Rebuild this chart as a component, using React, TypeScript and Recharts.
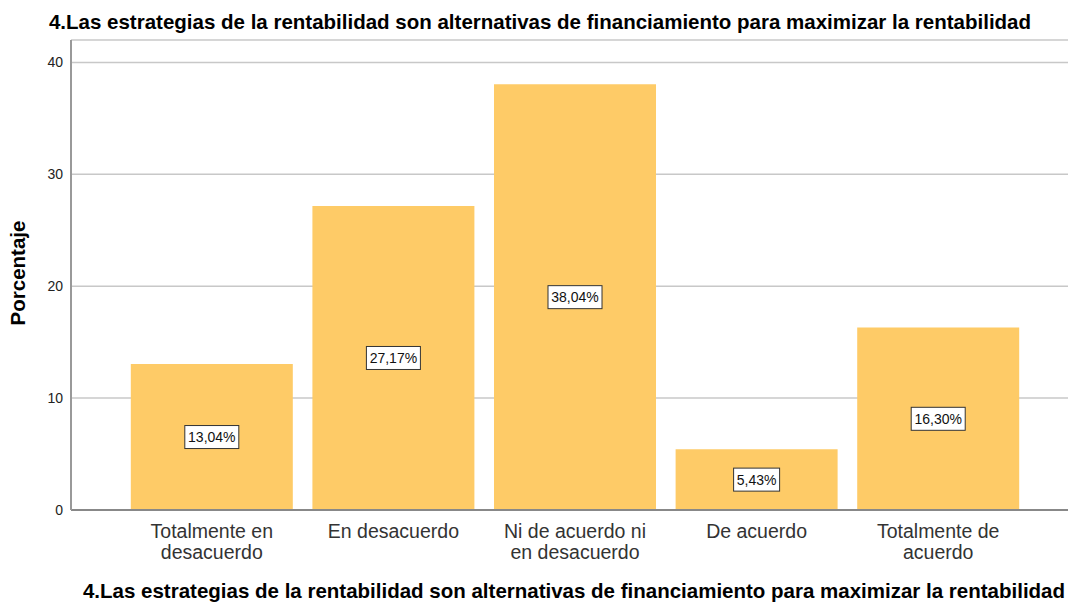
import { BarChart, Bar, XAxis, YAxis, CartesianGrid, LabelList } from "recharts";

const categories = [
  "Totalmente en\ndesacuerdo",
  "En desacuerdo",
  "Ni de acuerdo ni\nen desacuerdo",
  "De acuerdo",
  "Totalmente de\nacuerdo",
];
const percentages = [13.04, 27.17, 38.04, 5.43, 16.3];
const yTicks = [0, 10, 20, 30, 40];

const TITLE =
  "4.Las estrategias de la rentabilidad son alternativas de financiamiento para maximizar la rentabilidad";

const FONT = "Arial, 'Liberation Sans', sans-serif";

const data = categories.map((category, i) => ({ category, value: percentages[i] }));

const fmt = (v: number) => v.toFixed(2).replace(".", ",") + "%";

function CategoryTick(props: any) {
  const { x, y, payload } = props;
  const lines = String(payload.value).split("\n");
  return (
    <text x={x} y={y} textAnchor="middle" fill="#333" fontSize={19.5} fontFamily={FONT}>
      {lines.map((line, i) => (
        <tspan key={i} x={x} dy={i === 0 ? 20 : 21}>
          {line}
        </tspan>
      ))}
    </text>
  );
}

function BoxLabel(props: any) {
  const { x, y, width, height, value } = props;
  const text = fmt(Number(value));
  const cx = x + width / 2;
  const cy = y + height / 2;
  const w = text.length * 8 + 6;
  const h = 23;
  return (
    <g>
      <rect x={cx - w / 2} y={cy - h / 2} width={w} height={h} fill="#fff" stroke="#333" strokeWidth={1} />
      <text x={cx} y={cy + 5} textAnchor="middle" fontSize={14} fill="#111" fontFamily={FONT}>
        {text}
      </text>
    </g>
  );
}

export default function App() {
  return (
    <div style={{ position: "relative", width: 1068, height: 606, background: "#fff", fontFamily: FONT }}>
      <style>{`body{margin:0}`}</style>
      <div
        style={{
          position: "absolute",
          left: 0,
          width: 1080,
          top: 10,
          textAlign: "center",
          fontWeight: "bold",
          fontSize: 20.5,
          color: "#000",
          whiteSpace: "nowrap",
        }}
      >
        {TITLE}
      </div>
      <div
        style={{
          position: "absolute",
          left: 70,
          width: 1008,
          top: 579,
          textAlign: "center",
          fontWeight: "bold",
          fontSize: 20.5,
          color: "#000",
          whiteSpace: "nowrap",
        }}
      >
        {TITLE}
      </div>
      <div
        style={{
          position: "absolute",
          left: 18,
          top: 273,
          transform: "translate(-50%, -50%) rotate(-90deg)",
          fontWeight: "bold",
          fontSize: 20.5,
          color: "#000",
          whiteSpace: "nowrap",
        }}
      >
        Porcentaje
      </div>
      <BarChart
        width={1068}
        height={606}
        data={data}
        margin={{ top: 40, right: 0, left: 0, bottom: 36 }}
        barCategoryGap="5.4%"
        style={{ position: "absolute", left: 0, top: 0 }}
      >
        <CartesianGrid vertical={false} stroke="#c8c8c8" strokeWidth={1.5} />
        <XAxis
          dataKey="category"
          height={60}
          padding={{ left: 50, right: 39 }}
          axisLine={{ stroke: "#888", strokeWidth: 2 }}
          tickLine={false}
          interval={0}
          tick={<CategoryTick />}
        />
        <YAxis
          width={71}
          domain={[0, 42]}
          ticks={yTicks}
          axisLine={{ stroke: "#999", strokeWidth: 2 }}
          tickLine={false}
          tick={{ fill: "#222", fontSize: 14, fontFamily: FONT }}
        />
        <Bar dataKey="value" fill="#FECB67" isAnimationActive={false}>
          <LabelList dataKey="value" content={<BoxLabel />} />
        </Bar>
      </BarChart>
    </div>
  );
}
